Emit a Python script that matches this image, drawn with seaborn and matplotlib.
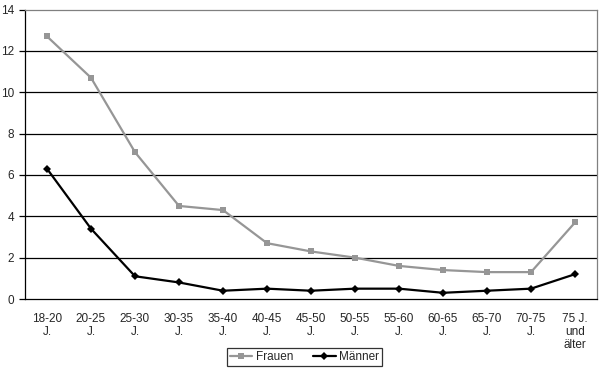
import matplotlib
matplotlib.use("Agg")
import matplotlib.pyplot as plt
import seaborn as sns
import pandas as pd
import numpy as np

categories = ["18-20\nJ.", "20-25\nJ.", "25-30\nJ.", "30-35\nJ.", "35-40\nJ.", "40-45\nJ.",
              "45-50\nJ.", "50-55\nJ.", "55-60\nJ.", "60-65\nJ.", "65-70\nJ.", "70-75\nJ.",
              "75 J.\nund\nälter"]
frauen = [12.7, 10.7, 7.1, 4.5, 4.3, 2.7, 2.3, 2.0, 1.6, 1.4, 1.3, 1.3, 3.7]
maenner = [6.3, 3.4, 1.1, 0.8, 0.4, 0.5, 0.4, 0.5, 0.5, 0.3, 0.4, 0.5, 1.2]
yticks = [0, 2, 4, 6, 8, 10, 12, 14]

sns.set_style("white")
plt.rcParams['font.family'] = ['Liberation Sans', 'DejaVu Sans']

pos = np.arange(len(categories))
df = pd.DataFrame({
    "pos": np.concatenate([pos, pos]),
    "value": frauen + maenner,
    "Serie": ["Frauen"] * len(pos) + ["Männer"] * len(pos),
})

FS = 8.5
fig = plt.figure(figsize=(6.06, 3.73), dpi=100)
W, H = 606, 373
ax = fig.add_axes([25 / W, 1 - 299 / H, (597 - 25) / W, (299 - 9.5) / H])

ax.set_axisbelow(True)
for y in yticks[1:-1]:
    ax.axhline(y, color="black", lw=0.9, zorder=0)

sns.lineplot(data=df, x="pos", y="value", hue="Serie", style="Serie",
             palette={"Frauen": "#969696", "Männer": "#000000"},
             markers={"Frauen": "s", "Männer": "D"}, dashes=False,
             linewidth=1.6, markersize=4.5, markeredgewidth=0, ax=ax, legend=True)

ax.set_xlim(-0.5, len(categories) - 0.5)
ax.set_ylim(0, 14)
ax.set_yticks(yticks)
ax.set_yticklabels([str(v) for v in yticks], fontsize=FS)
ax.set_xticks(np.arange(-0.5, len(categories), 1.0))
ax.set_xticklabels([])
ax.set_xticks(pos, minor=True)
ax.set_xticklabels(categories, minor=True, fontsize=FS, linespacing=1.1)
ax.tick_params(axis="x", which="major", direction="out", length=4, width=0.9, color="black")
ax.tick_params(axis="x", which="minor", length=0, pad=10)
ax.tick_params(axis="y", direction="out", length=4, width=0.9, color="black", pad=4, left=True)
ax.set_xlabel("")
ax.set_ylabel("")

for side in ["left", "bottom"]:
    ax.spines[side].set_color("black")
    ax.spines[side].set_linewidth(0.9)
for side in ["top", "right"]:
    ax.spines[side].set_visible(True)
    ax.spines[side].set_color("#808080")
    ax.spines[side].set_linewidth(0.9)

handles, labels = ax.get_legend_handles_labels()
ax.get_legend().remove()
leg = fig.legend(handles, labels, loc="center", bbox_to_anchor=(304.5 / W, 1 - 357 / H),
                 ncol=2, fontsize=FS, frameon=True, fancybox=False, handlelength=1.9,
                 handletextpad=0.3, columnspacing=1.7, borderpad=0.25, borderaxespad=0)
leg.get_frame().set_edgecolor("black")
leg.get_frame().set_linewidth(0.9)

fig.savefig("out.png", dpi=100)
